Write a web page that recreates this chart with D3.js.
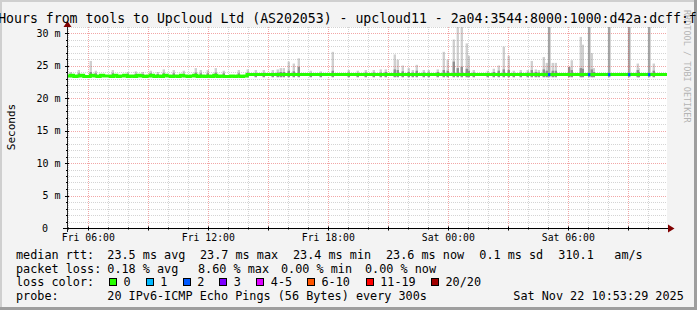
<!DOCTYPE html>
<html>
<head>
<meta charset="utf-8">
<script src="https://cdn.jsdelivr.net/npm/d3@7"></script>
<style>
body { margin: 0; background: #f3f3f3; }
svg { display: block; }
text { font-family: "DejaVu Sans Mono", monospace; fill: #000; }
</style>
</head>
<body>
<div id="chart"></div>
<script>
// time window of the graph (30 hours)
var timeRange = ["2025-11-21 04:56", "2025-11-22 10:56"];

// median rtt (ms), every 10 min from 04:56 to 13:56
var medianEarly = [23.4, 23.5, 23.3, 23.4, 23.5, 23.3, 23.3, 23.5, 23.4, 23.3,
    23.5, 23.4, 23.4, 23.3, 23.5, 23.3, 23.4, 23.5, 23.3, 23.4,
    23.3, 23.5, 23.4, 23.3, 23.4, 23.5, 23.3, 23.4, 23.3, 23.5,
    23.4, 23.3, 23.4, 23.3, 23.5, 23.4, 23.3, 23.4, 23.5, 23.3,
    23.4, 23.3, 23.4, 23.3, 23.5, 23.3, 23.4, 23.3, 23.3, 23.4,
    23.3, 23.4, 23.3, 23.4];
// median rtt (ms), every hour from 13:56 to the end
var medianLate = [23.6, 23.6, 23.6, 23.6, 23.6, 23.6, 23.6, 23.6, 23.6, 23.6, 23.6,
    23.6, 23.6, 23.6, 23.6, 23.6, 23.6, 23.6, 23.6, 23.6, 23.6, 23.6];

// steps with lost pings
var lossTimes = ["2025-11-22 05:00", "2025-11-22 07:00", "2025-11-22 08:00", "2025-11-22 09:00", "2025-11-22 10:00"];
var lossCounts = [2, 2, 2, 2, 2];

// smoke spikes: time, highest ping, top of the dense part
var spikeTimes = [
    "2025-11-21 05:05", "2025-11-21 05:29", "2025-11-21 06:05", "2025-11-21 06:20", "2025-11-21 07:11",
    "2025-11-21 07:56", "2025-11-21 08:20", "2025-11-21 08:41", "2025-11-21 09:05", "2025-11-21 09:26",
    "2025-11-21 09:44", "2025-11-21 10:14", "2025-11-21 10:44", "2025-11-21 11:20", "2025-11-21 11:35",
    "2025-11-21 11:56", "2025-11-21 12:20", "2025-11-21 12:44", "2025-11-21 13:29", "2025-11-21 13:56",
    "2025-11-21 14:20", "2025-11-21 14:44", "2025-11-21 15:11", "2025-11-21 15:26", "2025-11-21 15:35",
    "2025-11-21 15:44", "2025-11-21 15:59", "2025-11-21 16:14", "2025-11-21 16:29", "2025-11-21 17:05",
    "2025-11-21 17:35", "2025-11-21 18:11", "2025-11-21 18:59", "2025-11-21 19:26", "2025-11-21 19:50",
    "2025-11-21 20:14", "2025-11-21 20:35", "2025-11-21 20:50", "2025-11-21 21:17", "2025-11-21 21:26",
    "2025-11-21 21:41", "2025-11-21 21:59", "2025-11-21 22:11", "2025-11-21 22:23", "2025-11-21 22:44",
    "2025-11-21 22:59", "2025-11-21 23:26", "2025-11-21 23:44", "2025-11-21 23:56", "2025-11-22 00:14",
    "2025-11-22 00:26", "2025-11-22 00:38", "2025-11-22 00:53", "2025-11-22 00:59", "2025-11-22 01:14",
    "2025-11-22 01:56", "2025-11-22 02:14", "2025-11-22 02:29", "2025-11-22 02:44", "2025-11-22 02:59",
    "2025-11-22 03:14", "2025-11-22 03:35", "2025-11-22 03:56", "2025-11-22 04:08", "2025-11-22 04:20",
    "2025-11-22 04:29", "2025-11-22 04:44", "2025-11-22 04:53", "2025-11-22 05:00", "2025-11-22 05:11",
    "2025-11-22 05:20", "2025-11-22 06:00", "2025-11-22 06:08", "2025-11-22 06:35", "2025-11-22 06:41",
    "2025-11-22 07:00", "2025-11-22 07:08", "2025-11-22 07:14", "2025-11-22 08:00", "2025-11-22 09:00",
    "2025-11-22 09:26", "2025-11-22 09:29", "2025-11-22 10:00", "2025-11-22 10:14"];
var spikeTops = [
    24.0, 24.3, 25.7, 24.2, 24.3,
    24.0, 24.1, 24.0, 24.2, 24.0,
    24.4, 24.3, 24.2, 24.6, 24.3,
    24.3, 24.6, 24.2, 24.3, 24.4,
    24.3, 24.3, 24.3, 24.4, 24.6,
    24.6, 25.6, 25.3, 26.1, 24.2,
    24.1, 27.1, 24.3, 24.2, 24.3,
    24.3, 24.4, 24.4, 26.7, 25.9,
    25.0, 24.6, 24.3, 25.1, 24.3,
    24.3, 24.4, 27.1, 25.9, 29.0,
    33.0, 33.0, 28.4, 26.5, 24.3,
    24.2, 24.5, 25.0, 27.9, 26.5,
    24.2, 24.3, 24.3, 25.7, 24.4,
    24.3, 26.3, 25.4, 40.0, 25.4,
    25.4, 24.6, 25.8, 29.4, 28.2,
    40.0, 26.9, 24.6, 40.0, 40.0,
    25.3, 24.6, 40.0, 25.3];
var spikeCores = [
    23.7, 23.8, 24.0, 23.8, 23.8,
    23.7, 23.7, 23.7, 23.8, 23.7,
    23.8, 23.8, 23.7, 23.9, 23.8,
    23.8, 23.9, 23.8, 23.8, 23.9,
    23.8, 23.8, 23.8, 23.9, 24.0,
    24.0, 24.2, 24.1, 24.8, 23.8,
    23.8, 24.2, 23.9, 23.8, 23.9,
    23.9, 23.9, 24.0, 24.4, 24.3,
    24.1, 24.0, 23.9, 24.2, 23.9,
    23.9, 24.0, 24.3, 24.2, 25.6,
    24.6, 24.8, 24.5, 24.2, 23.9,
    23.8, 24.0, 24.2, 24.4, 24.3,
    23.8, 23.9, 23.9, 24.3, 24.0,
    23.9, 24.4, 24.2, 40.0, 24.2,
    24.2, 24.8, 24.3, 24.6, 24.5,
    40.0, 24.4, 24.0, 40.0, 40.0,
    24.3, 24.0, 40.0, 24.2];

var lossColors = ["#26ff00", "#00b8ff", "#0059ff", "#7e00ff", "#dd00ff", "#ff5500", "#ff0000", "#a00000"];
var lossLabels = ["0", "1", "2", "3", "4-5", "6-10", "11-19", "20/20"];

var titleText = "30 Hours from tools to Upcloud Ltd (AS202053) - upcloud11 - 2a04:3544:8000:1000:d42a:dcff:f";
var legendRtt = ["median rtt:", "23.5 ms avg", "23.7 ms max", "23.4 ms min", "23.6 ms now", "0.1 ms sd", "310.1", "am/s"];
var legendLoss = ["packet loss:", "0.18 % avg", "8.60 % max", "0.00 % min", "0.00 % now"];
var probeText = ["probe:", "20 IPv6-ICMP Echo Pings (56 Bytes) every 300s", "Sat Nov 22 10:53:29 2025"];

var width = 697, height = 310;
var plotLeft = 67, plotRight = 667, plotTop = 27, plotBottom = 228;
var parse = d3.timeParse("%Y-%m-%d %H:%M");

var svg = d3.select("#chart").append("svg")
    .attr("width", width)
    .attr("height", height);

svg.append("rect").attr("width", width).attr("height", height).attr("fill", "#f3f3f3");

var x = d3.scaleTime().domain(timeRange.map(parse)).range([plotLeft, plotRight]);
var y = d3.scaleLinear().domain([0, 31]).range([plotBottom, plotBottom - 31 * 6.5]);

svg.append("defs").append("clipPath").attr("id", "canvas")
    .append("rect").attr("x", plotLeft).attr("y", plotTop)
    .attr("width", plotRight - plotLeft).attr("height", plotBottom - plotTop);

svg.append("rect")
    .attr("x", plotLeft).attr("y", plotTop)
    .attr("width", plotRight - plotLeft).attr("height", plotBottom - plotTop)
    .attr("fill", "#fff");

var plot = svg.append("g").attr("clip-path", "url(#canvas)");

// smoke (a 5 min step is under 2 px, so widen bars a little to read like rrdtool's)
var step = 5 * 60 * 1000;
var spikes = spikeTimes.map(function (t, i) {
    return { t: parse(t), top: spikeTops[i], core: spikeCores[i] };
});
function barW(d) { return Math.max(2.4, x(new Date(+d.t + step)) - x(d.t)); }
plot.selectAll(".smoke").data(spikes).enter().append("rect")
    .attr("class", "smoke")
    .attr("x", function (d) { return x(d.t) - 0.4; })
    .attr("width", barW)
    .attr("y", function (d) { return y(d.top); })
    .attr("height", function (d) { return y(23.2) - y(d.top); })
    .attr("fill", "#cfcfcf");
plot.selectAll(".core").data(spikes).enter().append("rect")
    .attr("class", "core")
    .attr("x", function (d) { return x(d.t) - 0.4; })
    .attr("width", barW)
    .attr("y", function (d) { return y(d.core); })
    .attr("height", function (d) { return y(23.2) - y(d.core); })
    .attr("fill", function (d) { return d.core > 30 ? "#a6a6a6" : "#8f8f8f"; });

// grid
var hours = x.ticks(d3.timeHour.every(1));
plot.selectAll(".vgrid").data(hours).enter().append("line")
    .attr("x1", function (d) { return Math.round(x(d)) + 0.5; })
    .attr("x2", function (d) { return Math.round(x(d)) + 0.5; })
    .attr("y1", plotTop).attr("y2", plotBottom)
    .attr("stroke", function (d) { return d.getHours() % 3 === 0 ? "rgba(230,80,80,0.5)" : "rgba(143,143,143,0.38)"; })
    .attr("stroke-dasharray", "1,1");
plot.selectAll(".hgrid").data(d3.range(1, 32)).enter().append("line")
    .attr("x1", plotLeft).attr("x2", plotRight)
    .attr("y1", function (d) { return Math.round(y(d)) + 0.5; })
    .attr("y2", function (d) { return Math.round(y(d)) + 0.5; })
    .attr("stroke", function (d) { return d % 5 === 0 ? "rgba(230,80,80,0.5)" : "rgba(143,143,143,0.38)"; })
    .attr("stroke-dasharray", "1,1");

// median line
var start = parse(timeRange[0]);
var lateStart = d3.timeMinute.offset(start, medianEarly.length * 10);
var median = medianEarly.map(function (v, i) {
    return { t: d3.timeMinute.offset(start, i * 10), v: v };
}).concat(medianLate.map(function (v, i) {
    return { t: d3.timeHour.offset(lateStart, i), v: v };
}));
plot.append("path")
    .datum(median)
    .attr("fill", "none")
    .attr("stroke", lossColors[0])
    .attr("stroke-width", 3)
    .attr("d", d3.line().curve(d3.curveStepAfter)
        .x(function (d) { return x(d.t); })
        .y(function (d) { return y(d.v); }));

// loss markers on the median line
function lossIndex(n) {
    if (n <= 3) return n;
    if (n <= 5) return 4;
    if (n <= 10) return 5;
    if (n <= 19) return 6;
    return 7;
}
plot.selectAll(".loss").data(lossTimes).enter().append("line")
    .attr("x1", function (d) { return x(parse(d)) - 0.4; })
    .attr("x2", function (d) { return x(parse(d)) + 2; })
    .attr("y1", y(23.6)).attr("y2", y(23.6))
    .attr("stroke", function (d, i) { return lossColors[lossIndex(lossCounts[i])]; })
    .attr("stroke-width", 3);

// axes
svg.append("line").attr("x1", plotLeft - 4).attr("x2", plotRight + 4)
    .attr("y1", plotBottom + 0.5).attr("y2", plotBottom + 0.5).attr("stroke", "#000");
svg.append("line").attr("x1", plotLeft + 0.5).attr("x2", plotLeft + 0.5)
    .attr("y1", plotBottom + 4).attr("y2", plotTop - 3).attr("stroke", "#222");
svg.selectAll(".xtick").data(hours).enter().append("line")
    .attr("x1", function (d) { return Math.round(x(d)) + 0.5; })
    .attr("x2", function (d) { return Math.round(x(d)) + 0.5; })
    .attr("y1", function (d) { return d.getHours() % 3 === 0 ? plotBottom - 1.5 : plotBottom - 0.5; })
    .attr("y2", function (d) { return d.getHours() % 3 === 0 ? plotBottom + 2.5 : plotBottom + 1.5; })
    .attr("stroke", "#000");
svg.selectAll(".ytick").data(d3.range(0, 31)).enter().append("line")
    .attr("x1", function (d) { return d % 5 === 0 ? plotLeft - 2 : plotLeft - 1; })
    .attr("x2", function (d) { return d % 5 === 0 ? plotLeft + 2 : plotLeft + 1; })
    .attr("y1", function (d) { return Math.round(y(d)) + 0.5; })
    .attr("y2", function (d) { return Math.round(y(d)) + 0.5; })
    .attr("stroke", "#000");
svg.append("path").attr("d", "M668,224.5L674.5,228.5L668,232.5Z").attr("fill", "#800000");
svg.append("path").attr("d", "M63.5,27L67.5,21L71.5,27Z").attr("fill", "#800000");

// axis labels
svg.selectAll(".xlab").data(x.ticks(d3.timeHour.every(6))).enter().append("text")
    .attr("x", function (d) { return x(d); })
    .attr("y", 240.5)
    .attr("text-anchor", "middle")
    .style("font-size", "9.8px")
    .text(d3.timeFormat("%a %H:%M"));
svg.selectAll(".ylab").data(y.ticks(6)).enter().append("text")
    .attr("x", function (d) { return d === 0 ? 48 : 60.5; })
    .attr("y", function (d) { return y(d) + 3.5; })
    .attr("text-anchor", "end")
    .style("font-size", "10px")
    .text(function (d) { return d === 0 ? "0" : d + " m"; });
svg.append("text")
    .attr("transform", "translate(14.5,127) rotate(-90)")
    .attr("text-anchor", "middle")
    .style("font-size", "11px")
    .text("Seconds");

// legend
var lx = [16, 107.3, 200, 293, 386, 479.3, 558.3, 614.3];
svg.selectAll(".lg1").data(legendRtt).enter().append("text")
    .attr("x", function (d, i) { return lx[i]; }).attr("y", 259)
    .style("font-size", "11.8px").text(function (d) { return d; });
var lx2 = [16, 107.3, 198, 281, 365];
svg.selectAll(".lg2").data(legendLoss).enter().append("text")
    .attr("x", function (d, i) { return lx2[i]; }).attr("y", 272.7)
    .style("font-size", "11.8px").text(function (d) { return d; });
svg.append("text").attr("x", 16).attr("y", 286.4).style("font-size", "11.8px").text("loss color:");
var bx = [109, 145.7, 182.7, 219.3, 256.3, 307, 365.7, 431];
svg.selectAll(".lbox").data(lossColors).enter().append("rect")
    .attr("x", function (d, i) { return Math.round(bx[i]) + 0.5; })
    .attr("y", 278.5).attr("width", 7).attr("height", 7)
    .attr("fill", function (d) { return d; })
    .attr("stroke", "#000");
svg.selectAll(".llab").data(lossLabels).enter().append("text")
    .attr("x", function (d, i) { return bx[i] + 14.5; }).attr("y", 286.4)
    .style("font-size", "11.8px").text(function (d) { return d; });
var px = [16, 107.3, 513.3];
svg.selectAll(".lg4").data(probeText).enter().append("text")
    .attr("x", function (d, i) { return px[i]; }).attr("y", 300.1)
    .style("font-size", "11.8px").text(function (d) { return d; });

// frame shading
svg.append("rect").attr("x", 0).attr("y", 0).attr("width", width).attr("height", 2).attr("fill", "#cfcfcf");
svg.append("rect").attr("x", 0).attr("y", 0).attr("width", 2).attr("height", height).attr("fill", "#cfcfcf");
svg.append("rect").attr("x", 0).attr("y", height - 3).attr("width", width).attr("height", 3).attr("fill", "#9e9e9e");
svg.append("rect").attr("x", width - 3).attr("y", 0).attr("width", 3).attr("height", height).attr("fill", "#9e9e9e");

// credit and title
svg.append("text")
    .attr("transform", "translate(684,10) rotate(90)")
    .style("font-size", "8.5px")
    .style("fill", "#b4b4b4")
    .text("RRDTOOL / TOBI OETIKER");
svg.append("text")
    .attr("x", -25.7).attr("y", 23)
    .style("font-size", "13.2px")
    .text(titleText);
</script>
</body>
</html>
